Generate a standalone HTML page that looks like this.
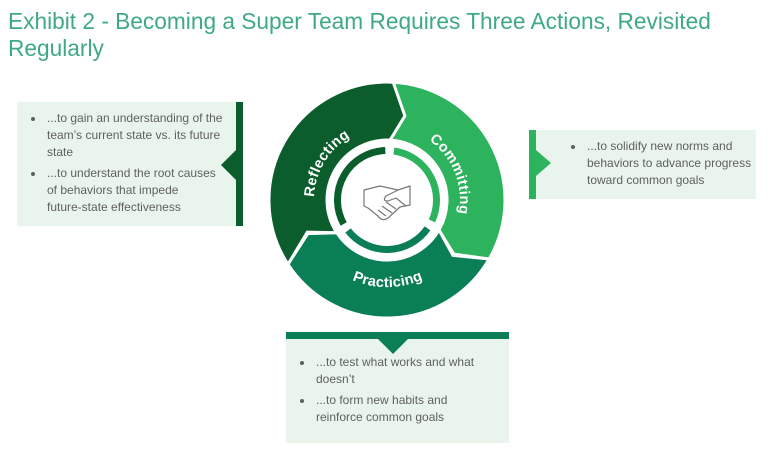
<!DOCTYPE html>
<html><head><meta charset="utf-8"><style>
html,body{margin:0;padding:0;width:768px;height:469px;background:#fff;overflow:hidden;font-family:"Liberation Sans",sans-serif;}
.t{position:absolute;left:8px;top:8px;font-size:22.7px;line-height:27px;color:#3fa987;width:740px;}
.box{position:absolute;background:#e9f5ec;color:#606060;font-size:12px;line-height:17px;}
.box ul{margin:0;padding:0 0 0 28px;}
.box li{margin-bottom:4px;padding-left:2px;white-space:nowrap;}
</style></head><body>
<div class="t">Exhibit 2 - Becoming a Super Team Requires Three Actions, Revisited Regularly</div>

<div class="box" style="left:17px;top:102px;width:226px;height:124px;">
 <ul style="padding-top:8px;"><li>...to gain an understanding of the<br>team’s current state vs. its future<br>state</li><li>...to understand the root causes<br>of behaviors that impede<br>future-state effectiveness</li></ul>
</div>
<div class="box" style="left:529px;top:130px;width:227px;height:69px;">
 <ul style="padding:8px 0 0 56px;"><li>...to solidify new norms and<br>behaviors to advance progress<br>toward common goals</li></ul>
</div>
<div class="box" style="left:286px;top:332px;width:223px;height:111px;">
 <ul style="padding-top:22px;"><li>...to test what works and what<br>doesn’t</li><li>...to form new habits and<br>reinforce common goals</li></ul>
</div>

<svg id="s" width="768" height="469" style="position:absolute;left:0;top:0">
 <rect x="236" y="102" width="7" height="124" fill="#0b5e2c"/>
 <polygon points="236,150 221,165 236,180" fill="#0b5e2c"/>
 <rect x="529" y="130" width="7" height="69" fill="#2db35d"/>
 <polygon points="536,150 551,163 536,176" fill="#2db35d"/>
 <rect x="286" y="332" width="223" height="7" fill="#0a7f55"/>
 <polygon points="378,339 408,339 393,354" fill="#0a7f55"/>
 <g id="g"></g>
 <circle cx="387" cy="200" r="44" fill="#fff"/>
 <g fill="none" stroke="#777" stroke-width="1.2" stroke-linejoin="round">
  <path d="M364,190 L380,186 L398,190 L410,186 L410,205 L400,207 L388,218 Q382,222 378,216 L368,208 L364,206 Z"/>
  <path d="M398,190 L386,196 Q382,201 388,201 L396,198 L406,206"/>
  <path d="M378,210 L386,216 M382,206 L392,213 M386,202 L396,209"/>
 </g>
</svg>
<script>
var cx=387,cy=200;
function P(r,a){a=a*Math.PI/180;return (cx+r*Math.sin(a)).toFixed(1)+","+(cy-r*Math.cos(a)).toFixed(1);}
function seg(a,b,c,R,r,m,d){
 var big=((b-a+360)%360)>180?1:0;
 return '<path fill="'+c+'" stroke="#fff" stroke-width="3" stroke-linejoin="miter" d="M'+P(R,a)+' A'+R+','+R+' 0 '+big+' 1 '+P(R,b)+' L'+P(m,b+d)+' L'+P(r,b)+' A'+r+','+r+' 0 '+big+' 0 '+P(r,a)+' L'+P(m,a+d)+' Z"/>';
}
function ring(a,b,c){return '<path fill="none" stroke="'+c+'" stroke-width="7" d="M'+P(49.5,a)+' A49.5,49.5 0 0 1 '+P(49.5,b)+'"/>';}
var h='';
h+=seg(237,363,'#0b5e2c',118,60,86,11);
h+=seg(3,120,'#2db35d',118,60,86,9);
h+=seg(120,237,'#0a7f55',118,60,86,10);
h+=ring(241,358,'#0b5e2c')+ring(8,115,'#2db35d')+ring(125,232,'#0a7f55');
h+='<defs><path id="p1" d="M'+P(73,240)+' A73,73 0 0 1 '+P(73,362)+'"/><path id="p2" d="M'+P(73,8)+' A73,73 0 0 1 '+P(73,128)+'"/><path id="p3" d="M'+P(87,250)+' A87,87 0 0 0 '+P(87,100)+'"/></defs>';
h+='<text font-size="14.5" font-weight="bold" fill="#fff" letter-spacing="0.3"><textPath href="#p1" startOffset="50%" text-anchor="middle">Reflecting</textPath></text>';
h+='<text font-size="14.5" font-weight="bold" fill="#fff" letter-spacing="0.3"><textPath href="#p2" startOffset="50%" text-anchor="middle">Committing</textPath></text>';
h+='<text font-size="14.5" font-weight="bold" fill="#fff" letter-spacing="0.3"><textPath href="#p3" startOffset="47%" text-anchor="middle">Practicing</textPath></text>';
document.getElementById('g').innerHTML=h;
</script>
</body></html>
